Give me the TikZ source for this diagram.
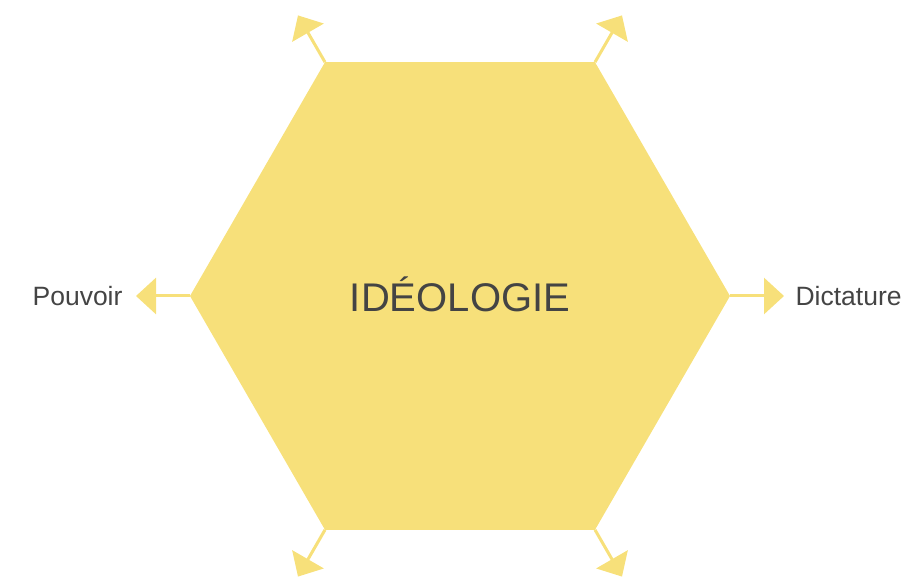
\documentclass[tikz,border=0pt]{standalone}
\usepackage{fontspec}
\setmainfont{Liberation Sans}
\usetikzlibrary{arrows.meta,calc}
\definecolor{hexyellow}{HTML}{F7E07A}
\definecolor{txtgray}{HTML}{444444}
\begin{document}
\begin{tikzpicture}[x=1pt,y=1pt,
  spoke/.style={draw=hexyellow, line width=3pt, -{Triangle[length=20pt,width=36pt,fill=hexyellow]}},
  lbl/.style={text=txtgray, font=\fontsize{26.5}{30}\selectfont},
  titlefont/.style={text=txtgray, font=\fontsize{40}{48}\selectfont}]
\useasboundingbox (0,0) rectangle (916,576);
\coordinate (c) at (460,280);
\foreach \i in {0,...,5} {
  \coordinate (v\i) at ($(c)+(\i*60:270)$);
  \coordinate (t\i) at ($(v\i)+(\i*60:54)$);
}
\foreach \i in {0,...,5} {
  \draw[spoke] (v\i) -- (t\i);
}
\fill[hexyellow] (v0) -- (v1) -- (v2) -- (v3) -- (v4) -- (v5) -- cycle;
\node[titlefont] (title) at ($(c)+(0,2)$) {IDÉOLOGIE};
\node[lbl, anchor=west] (dict) at ($(t0)+(8,0)$) {Dictature};
\node[lbl, anchor=east] (pouv) at ($(t3)+(-10,0)$) {Pouvoir};
\end{tikzpicture}
\end{document}
